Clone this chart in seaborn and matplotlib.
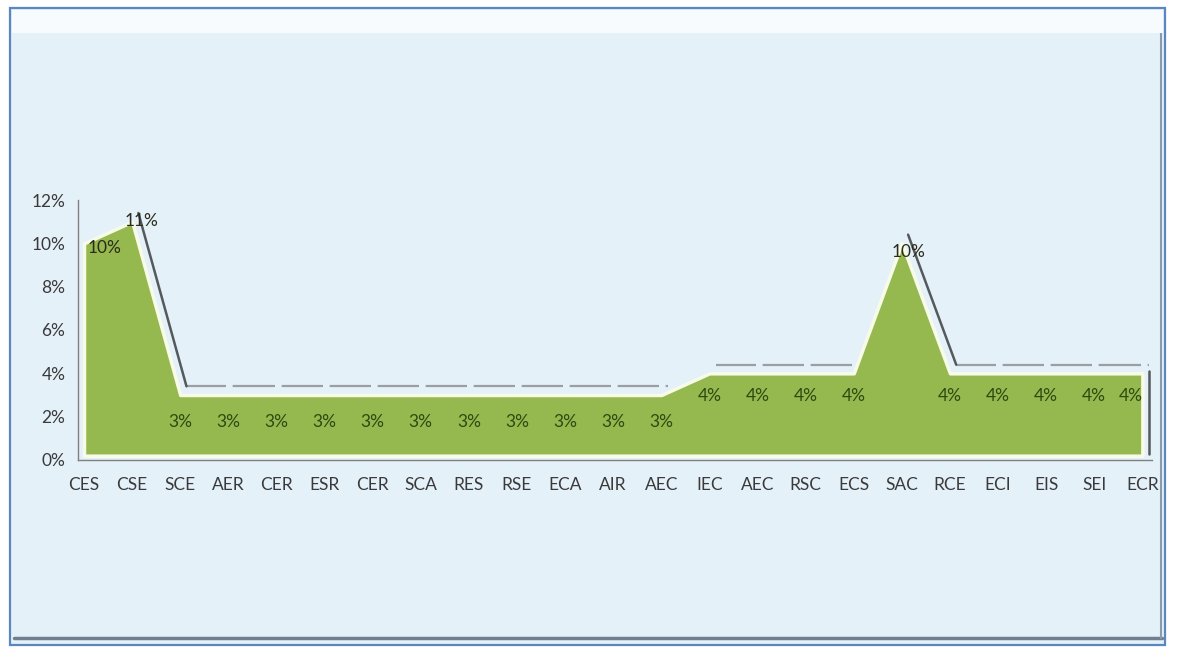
import numpy as np
import pandas as pd
import matplotlib
matplotlib.use('Agg')
import matplotlib.pyplot as plt
import seaborn as sns
from matplotlib.patches import Rectangle
from matplotlib.ticker import PercentFormatter

# chart data (percent)
categories = ['CES', 'CSE', 'SCE', 'AER', 'CER', 'ESR', 'CER', 'SCA', 'RES', 'RSE',
              'ECA', 'AIR', 'AEC', 'IEC', 'AEC', 'RSC', 'ECS', 'SAC', 'RCE', 'ECI',
              'EIS', 'SEI', 'ECR']
values = [10, 11, 3, 3, 3, 3, 3, 3, 3, 3, 3, 3, 3, 4, 4, 4, 4, 10, 4, 4, 4, 4, 4]
value_labels = [f'{v}%' for v in values]

sns.set_style('white')
plt.rcParams['font.family'] = ['Lato', 'DejaVu Sans']

df = pd.DataFrame({'pos': np.arange(len(categories)), 'cat': categories, 'val': values})

fig = plt.figure(figsize=(11.92, 6.55), dpi=100, facecolor='white')

# chart frame (pixel coords -> figure fraction)
W, H = 1192, 655
def fx(px): return px / W
def fy(py): return 1 - py / H

fig.patches.append(Rectangle((fx(10), fy(645)), fx(1165) - fx(10), fy(8) - fy(645),
                             transform=fig.transFigure, facecolor='#e5f1f9',
                             edgecolor='#5b87c0', lw=1.6, zorder=-2))
fig.patches.append(Rectangle((fx(12), fy(33)), fx(1163) - fx(12), fy(10) - fy(33),
                             transform=fig.transFigure, facecolor='#f8fbfd',
                             edgecolor='none', zorder=-1))
fig.lines.append(plt.Line2D([fx(14), fx(1162)], [fy(638), fy(638)], transform=fig.transFigure,
                            color='#6f7f8e', lw=2.5, zorder=-1))
fig.lines.append(plt.Line2D([fx(1161), fx(1161)], [fy(33), fy(638)], transform=fig.transFigure,
                            color='#8a9aa8', lw=1.5, zorder=-1))

ax = fig.add_axes([fx(78), fy(460), fx(1152) - fx(78), fy(200) - fy(460)])
ax.set_facecolor('none')
ax.set_zorder(5)

# shadow (offset up/right): light dashes on flat parts, dark on falling parts
dx, dy = 0.13, 0.4
flat, fall = [], []
for i in range(len(values) - 1):
    seg = [(i + dx, values[i] + dy), (i + 1 + dx, values[i + 1] + dy)]
    if values[i + 1] == values[i]:
        flat += [(i, x, y) for x, y in seg]
    elif values[i + 1] < values[i]:
        fall += [(i, x, y) for x, y in seg]
n = len(values) - 1
fall += [(n, n + dx, values[-1] + dy - 0.3), (n, n + dx, 0.3)]
flat_df = pd.DataFrame(flat, columns=['seg', 'x', 'y'])
fall_df = pd.DataFrame(fall, columns=['seg', 'x', 'y'])

sns.lineplot(data=flat_df, x='x', y='y', units='seg', estimator=None, sort=False, ax=ax,
             color='#9a9fa3', lw=1.6, zorder=1)
for ln in ax.lines:
    ln.set_dashes([18, 3])
sns.lineplot(data=fall_df, x='x', y='y', units='seg', estimator=None, sort=False, ax=ax,
             color='#55595c', lw=1.8, zorder=1)

# area
ax.fill_between(df['pos'], 0.2, df['val'], facecolor='#95b84f', edgecolor='#f7fbe8',
                lw=2.5, zorder=2)

# data labels
lab_kw = dict(ha='center', va='center', fontsize=12.5, zorder=3)
peak2 = int(np.argmax(values[2:])) + 2
last = len(values) - 1
for i, (p, v, t) in enumerate(zip(df['pos'], df['val'], value_labels)):
    if i == 0:
        ax.text(p + 0.42, v - 0.2, t, color='#2b2b1b', **lab_kw)
    elif i == 1:
        ax.text(p + 0.2, v + 0.05, t, color='#2b2b1b', **lab_kw)
    elif i == peak2:
        ax.text(p + 0.15, v - 0.4, t, color='#2b2b1b', **lab_kw)
    elif i == last:
        ax.text(p - 0.25, v - 1.05, t, color='#2e4a12', **lab_kw)
    else:
        off = -1.25 if v == 3 else -1.05
        ax.text(p, v + off, t, color='#2e4a12', **lab_kw)

ax.set_xlim(-0.125, len(categories) - 1 + 0.2)
ax.set_ylim(0, 12)
ax.set_xticks(df['pos'])
ax.set_xticklabels(categories, fontsize=12.5, color='#3a3a3a')
ax.set_yticks(np.arange(0, 13, 2))
ax.yaxis.set_major_formatter(PercentFormatter(decimals=0))
ax.tick_params(axis='y', labelsize=12.5, labelcolor='#3a3a3a', length=5, color='#808080', pad=4)
ax.tick_params(axis='x', length=4, color='#808080', pad=8)
sns.despine(ax=ax, top=True, right=True)
for s in ['left', 'bottom']:
    ax.spines[s].set_color('#808080')
    ax.spines[s].set_linewidth(1.0)
ax.set_xlabel('')
ax.set_ylabel('')

fig.savefig('out.png', dpi=100)
